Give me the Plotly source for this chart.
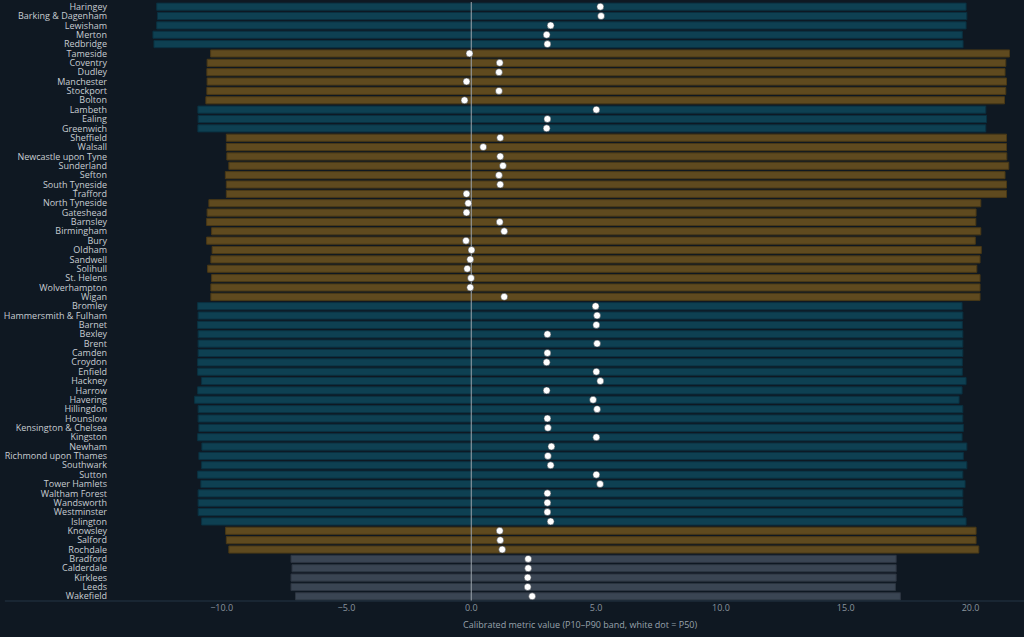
import plotly.graph_objects as go

# rows, top to bottom
areas = [
    "Haringey", "Barking & Dagenham", "Lewisham", "Merton", "Redbridge",
    "Tameside", "Coventry", "Dudley", "Manchester", "Stockport", "Bolton",
    "Lambeth", "Ealing", "Greenwich",
    "Sheffield", "Walsall", "Newcastle upon Tyne", "Sunderland", "Sefton",
    "South Tyneside", "Trafford", "North Tyneside", "Gateshead", "Barnsley",
    "Birmingham", "Bury", "Oldham", "Sandwell", "Solihull", "St. Helens",
    "Wolverhampton", "Wigan",
    "Bromley", "Hammersmith & Fulham", "Barnet", "Bexley", "Brent", "Camden",
    "Croydon", "Enfield", "Hackney", "Harrow", "Havering", "Hillingdon",
    "Hounslow", "Kensington & Chelsea", "Kingston", "Newham",
    "Richmond upon Thames", "Southwark", "Sutton", "Tower Hamlets",
    "Waltham Forest", "Wandsworth", "Westminster", "Islington",
    "Knowsley", "Salford", "Rochdale",
    "Bradford", "Calderdale", "Kirklees", "Leeds", "Wakefield",
]

group = (
    ["london"] * 5 + ["metro"] * 6 + ["london"] * 3 + ["metro"] * 18
    + ["london"] * 24 + ["metro"] * 3 + ["wyorks"] * 5
)

p10 = [
    -12.60, -12.57, -12.60, -12.75, -12.71,
    -10.44, -10.58, -10.59, -10.58, -10.59, -10.63,
    -10.95, -10.94, -10.95,
    -9.81, -9.81, -9.79, -9.71, -9.85, -9.81, -9.81,
    -10.51, -10.58, -10.60, -10.40, -10.60, -10.38, -10.43, -10.56, -10.40,
    -10.43, -10.43,
    -10.96, -10.94, -10.96, -10.94, -10.94, -10.94, -10.96, -10.96, -10.80,
    -10.96, -11.08, -10.94, -10.94, -10.91, -10.96, -10.79, -10.91, -10.80,
    -10.96, -10.83, -10.94, -10.94, -10.94, -10.80,
    -9.84, -9.81, -9.71,
    -7.22, -7.18, -7.22, -7.22, -7.04,
]

p50 = [
    5.17, 5.20, 3.18, 3.02, 3.05,
    -0.07, 1.14, 1.11, -0.19, 1.11, -0.27,
    5.01, 3.05, 3.02,
    1.16, 0.48, 1.16, 1.27, 1.11, 1.16, -0.19,
    -0.12, -0.19, 1.14, 1.32, -0.21, 0.01, -0.04, -0.16, -0.01, -0.04, 1.32,
    4.98, 5.04, 5.01, 3.05, 5.04, 3.05, 3.02, 5.01, 5.17, 3.02,
    4.88, 5.04, 3.05, 3.07, 5.01, 3.21, 3.07, 3.18, 5.01, 5.16,
    3.05, 3.05, 3.05, 3.18,
    1.14, 1.16, 1.24,
    2.28, 2.28, 2.26, 2.26, 2.44,
]

p90 = [
    19.82, 19.85, 19.82, 19.67, 19.70,
    21.56, 21.41, 21.38, 21.44, 21.41, 21.36,
    20.61, 20.64, 20.61,
    21.44, 21.44, 21.45, 21.53, 21.38, 21.44, 21.44,
    20.41, 20.22, 20.21, 20.41, 20.19, 20.43, 20.38, 20.25, 20.38, 20.38,
    20.38,
    19.66, 19.69, 19.67, 19.69, 19.69, 19.69, 19.67, 19.67, 19.82, 19.66,
    19.54, 19.69, 19.69, 19.71, 19.66, 19.85, 19.71, 19.85, 19.69, 19.78,
    19.69, 19.69, 19.69, 19.82,
    20.22, 20.22, 20.33,
    17.02, 17.02, 17.02, 16.99, 17.19,
]

x_ticks = [-10, -5, 0, 5, 10, 15, 20]
x_title = "Calibrated metric value (P10\u2013P90 band, white dot = P50)"

fill = {"london": "#0e4052", "metro": "#5f4a1f", "wyorks": "#3a4553"}
edge = {"london": "#0a3040", "metro": "#483816", "wyorks": "#2c3540"}

rows = list(range(len(areas)))
widths = [hi - lo for lo, hi in zip(p10, p90)]

fig = go.Figure()

fig.add_trace(go.Bar(
    y=rows,
    x=widths,
    base=p10,
    orientation="h",
    width=0.76,
    marker=dict(
        color=[fill[g] for g in group],
        line=dict(color=[edge[g] for g in group], width=1),
    ),
    hoverinfo="skip",
))

# zero reference line, drawn over the bands but under the dots
fig.add_trace(go.Scatter(
    x=[0, 0],
    y=[-0.5, len(areas) - 0.5],
    mode="lines",
    line=dict(color="#9aa3ab", width=1),
    hoverinfo="skip",
))

fig.add_trace(go.Scatter(
    x=p50,
    y=rows,
    mode="markers",
    marker=dict(color="#ffffff", size=7, line=dict(color="#2a3038", width=0.5)),
    hovertext=areas,
))

fig.update_xaxes(
    range=[-14.47, 22.14],
    tickvals=x_ticks,
    tickformat=".1f",
    tickfont=dict(size=9, color="#8a949e"),
    showgrid=False,
    zeroline=False,
    showline=False,
    ticks="",
    automargin=False,
)
fig.update_yaxes(
    range=[len(areas) - 0.5, -0.5],
    tickvals=rows,
    ticktext=areas,
    tickfont=dict(size=9, color="#c8cdd2"),
    showgrid=False,
    zeroline=False,
    showline=False,
    ticks="",
    automargin=False,
    ticklabeloverflow="allow",
    ticklabelstandoff=2,
)

fig.add_shape(
    type="line", xref="paper", yref="paper",
    x0=-0.115, x1=1, y0=0, y1=0,
    line=dict(color="#243544", width=1),
)

fig.add_annotation(
    text=x_title, xref="paper", yref="paper",
    x=0.515, y=-0.04, xanchor="center", yanchor="middle",
    showarrow=False, font=dict(size=9, color="#98a2ac"),
)

fig.update_layout(
    width=1024,
    height=637,
    margin=dict(l=110, r=0, t=2, b=36),
    paper_bgcolor="#0f1822",
    plot_bgcolor="#0f1822",
    font=dict(family="Open Sans", color="#c3c8cd"),
    showlegend=False,
    bargap=0.24,
)

fig.write_html(
    "out.html",
    config={"displayModeBar": False},
    post_script="document.body.style.margin='0px';",
)
